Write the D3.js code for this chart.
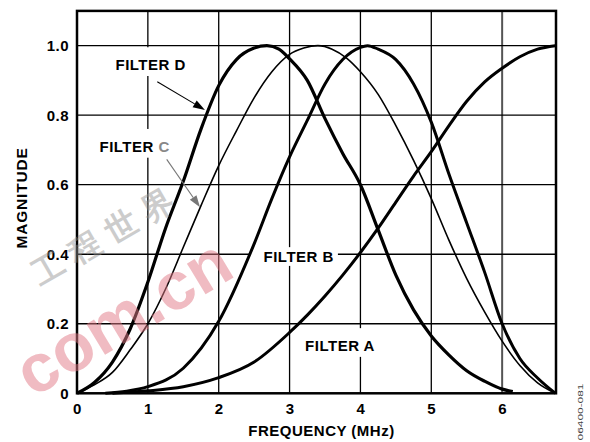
<!DOCTYPE html>
<html>
<head>
<meta charset="utf-8">
<script src="https://cdn.jsdelivr.net/npm/d3@7"></script>
<style>
  html, body { margin: 0; padding: 0; background: #fff; }
  svg { display: block; }
  text { font-family: "Liberation Sans", Arial, sans-serif; }
</style>
</head>
<body>
<svg id="chart" width="590" height="442"></svg>
<script>
// ---- data ----
const xTicks = [0, 1, 2, 3, 4, 5, 6];
const xTickLabels = ["0", "1", "2", "3", "4", "5", "6"];
const yTicks = [0, 0.2, 0.4, 0.6, 0.8, 1.0];
const yTickLabels = ["0", "0.2", "0.4", "0.6", "0.8", "1.0"];

const freqA = [0.5, 1, 1.5, 2, 2.5, 3, 3.25, 3.5, 3.75, 4, 4.25, 4.5, 4.75, 5, 5.25, 5.5, 5.75, 6, 6.25, 6.5, 6.75];
const magA  = [0, 0.007, 0.019, 0.045, 0.09, 0.175, 0.225, 0.28, 0.34, 0.405, 0.475, 0.55, 0.625, 0.695, 0.77, 0.84, 0.895, 0.935, 0.968, 0.99, 1.0];

const freqB = [0.4, 0.7, 1, 1.5, 2, 2.5, 2.75, 3, 3.25, 3.5, 3.75, 4, 4.1, 4.25, 4.5, 4.75, 5, 5.25, 5.5, 5.75, 6, 6.25, 6.5, 6.75];
const magB  = [0, 0.006, 0.019, 0.072, 0.207, 0.43, 0.56, 0.68, 0.785, 0.89, 0.96, 0.995, 1.0, 0.99, 0.96, 0.89, 0.78, 0.63, 0.49, 0.35, 0.2, 0.1, 0.044, 0.0];

const freqC = [0, 0.25, 0.5, 0.75, 1, 1.25, 1.5, 1.75, 2, 2.25, 2.5, 2.75, 3, 3.2, 3.4, 3.6, 3.8, 4, 4.25, 4.5, 4.75, 5, 5.25, 5.5, 5.75, 6, 6.25, 6.5, 6.75];
const magC  = [0, 0.025, 0.06, 0.125, 0.2, 0.3, 0.42, 0.54, 0.655, 0.755, 0.85, 0.925, 0.975, 0.993, 1.0, 0.99, 0.965, 0.925, 0.86, 0.77, 0.67, 0.56, 0.44, 0.33, 0.235, 0.15, 0.08, 0.03, 0.0];

const freqD = [0, 0.25, 0.5, 0.75, 1, 1.25, 1.5, 1.75, 2, 2.25, 2.5, 2.68, 2.85, 3, 3.25, 3.5, 3.75, 4, 4.25, 4.5, 4.75, 5, 5.25, 5.5, 5.75, 6, 6.15];
const magD  = [0, 0.032, 0.09, 0.185, 0.32, 0.475, 0.61, 0.76, 0.885, 0.96, 0.993, 1.0, 0.99, 0.962, 0.9, 0.79, 0.69, 0.6, 0.47, 0.34, 0.24, 0.165, 0.11, 0.065, 0.035, 0.012, 0.005];

// ---- layout ----
const svg = d3.select("#chart");
const x = d3.scaleLinear().domain([0, 6.76]).range([77, 556]);
const y = d3.scaleLinear().domain([0, 1.1]).range([393.3, 10.9]);
const FONT = 15;

// grid
const grid = svg.append("g");
grid.selectAll("line.v").data(xTicks.slice(1)).join("line")
  .attr("x1", d => x(d)).attr("x2", d => x(d))
  .attr("y1", y.range()[0]).attr("y2", y.range()[1])
  .attr("stroke", d => d === 6 ? "#555" : "#000")
  .attr("stroke-width", d => d === 6 ? 2 : 1.3);
grid.selectAll("line.h").data(yTicks.slice(1)).join("line")
  .attr("x1", x.range()[0]).attr("x2", x.range()[1])
  .attr("y1", d => y(d)).attr("y2", d => y(d))
  .attr("stroke", "#000").attr("stroke-width", 1.3);

// annotation labels (with white backgrounds hiding the grid)
const annots = [
  { text: "FILTER D", fx: 1.04, fy: 0.93, pad: [12, 6, 6, 6] },
  { text: "FILTER ", text2: "C", fx: 0.814, fy: 0.695, pad: [12, 6, 6, 6] },
  { text: "FILTER B", fx: 3.129, fy: 0.378, pad: [4, 4, 4, 13] },
  { text: "FILTER A", fx: 3.712, fy: 0.122, pad: [12, 6, 6, 6] }
];
const bgLayer = svg.append("g");
const curveLayer = svg.append("g");
const textLayer = svg.append("g");

// curves
const line = d3.line().curve(d3.curveMonotoneX).x(d => x(d[0])).y(d => y(d[1]));
const curves = [
  { f: freqA, m: magA, w: 3 },
  { f: freqB, m: magB, w: 3 },
  { f: freqC, m: magC, w: 1.6 },
  { f: freqD, m: magD, w: 3.2 }
];
curveLayer.selectAll("path").data(curves).join("path")
  .attr("d", c => line(c.f.map((v, i) => [v, c.m[i]])))
  .attr("fill", "none").attr("stroke", "#000")
  .attr("stroke-width", c => c.w).attr("stroke-linejoin", "round");

// frame
svg.append("rect")
  .attr("x", x.range()[0]).attr("y", y.range()[1])
  .attr("width", x.range()[1] - x.range()[0])
  .attr("height", y.range()[0] - y.range()[1])
  .attr("fill", "none").attr("stroke", "#000").attr("stroke-width", 2.5);

// axes
const xAxis = d3.axisBottom(x).tickValues(xTicks).tickSize(0).tickPadding(10)
  .tickFormat((d, i) => xTickLabels[i]);
const gx = svg.append("g").attr("transform", `translate(0,${y(0)})`).call(xAxis);
gx.select(".domain").remove();
gx.selectAll("text").attr("font-size", FONT).attr("font-weight", "bold")
  .attr("font-family", "Liberation Sans, Arial, sans-serif").attr("fill", "#000")
  .attr("letter-spacing", 0.5);

const yAxis = d3.axisLeft(y).tickValues(yTicks).tickSize(0).tickPadding(8)
  .tickFormat((d, i) => yTickLabels[i]);
const gy = svg.append("g").attr("transform", `translate(${x(0)},0)`).call(yAxis);
gy.select(".domain").remove();
gy.selectAll("text").attr("font-size", FONT).attr("font-weight", "bold")
  .attr("font-family", "Liberation Sans, Arial, sans-serif").attr("fill", "#000")
  .attr("letter-spacing", 0.5);

// axis titles
svg.append("text").attr("x", 321.5).attr("y", 435.5).attr("text-anchor", "middle")
  .attr("font-size", FONT).attr("font-weight", "bold").attr("letter-spacing", 0.5)
  .text("FREQUENCY (MHz)");
svg.append("text").attr("transform", "translate(27,198) rotate(-90)")
  .attr("text-anchor", "middle").attr("font-size", 15.5).attr("font-weight", "bold")
  .attr("letter-spacing", 0.8).text("MAGNITUDE");
svg.append("text").attr("transform", "translate(583,412) rotate(-90)")
  .attr("text-anchor", "middle").attr("font-size", 8).attr("fill", "#444")
  .attr("textLength", 57).attr("lengthAdjust", "spacingAndGlyphs").text("06400-081");

annots.forEach(a => {
  const t = textLayer.append("text").attr("x", x(a.fx)).attr("y", y(a.fy))
    .attr("text-anchor", "middle").attr("font-size", FONT).attr("font-weight", "bold")
    .attr("letter-spacing", 0.5);
  t.append("tspan").text(a.text);
  if (a.text2) t.append("tspan").attr("fill", "#888").text(a.text2);
  const bb = t.node().getBBox();
  const capTop = y(a.fy) - FONT * 0.716;
  bgLayer.append("rect")
    .attr("x", bb.x - a.pad[3]).attr("y", capTop - a.pad[0])
    .attr("width", bb.width + a.pad[1] + a.pad[3])
    .attr("height", FONT * 0.716 + a.pad[0] + a.pad[2])
    .attr("fill", "#fff");
});

// arrows
const arrows = [
  { from: [1.133, 0.896], to: [1.806, 0.815], color: "#000" },
  { from: [1.266, 0.673], to: [1.736, 0.535], color: "#777" }
];
arrows.forEach(a => {
  const x1 = x(a.from[0]), y1 = y(a.from[1]), x2 = x(a.to[0]), y2 = y(a.to[1]);
  const ang = Math.atan2(y2 - y1, x2 - x1);
  const L = 12, W = 4;
  const bx = x2 - L * Math.cos(ang), by = y2 - L * Math.sin(ang);
  svg.append("line").attr("x1", x1).attr("y1", y1).attr("x2", bx).attr("y2", by)
    .attr("stroke", a.color).attr("stroke-width", 1.1);
  svg.append("path")
    .attr("d", `M${x2},${y2}L${bx + W * Math.sin(ang)},${by - W * Math.cos(ang)}L${bx - W * Math.sin(ang)},${by + W * Math.cos(ang)}Z`)
    .attr("fill", a.color);
});

// watermark
const wm = svg.append("g").attr("pointer-events", "none");
wm.append("text").attr("transform", "translate(33,398) rotate(-31)")
  .attr("font-size", 68).attr("font-weight", "bold").attr("fill", "#e27a86")
  .attr("opacity", 0.5).attr("font-family", "Liberation Sans, Arial, sans-serif")
  .text("com.cn");
wm.append("text").attr("transform", "translate(40,286) rotate(-30)")
  .attr("font-size", 32).attr("font-weight", "bold").attr("fill", "#909090")
  .attr("opacity", 0.45).attr("letter-spacing", 10)
  .attr("font-family", "Noto Sans CJK SC, sans-serif")
  .text("工程世界");
</script>
</body>
</html>
